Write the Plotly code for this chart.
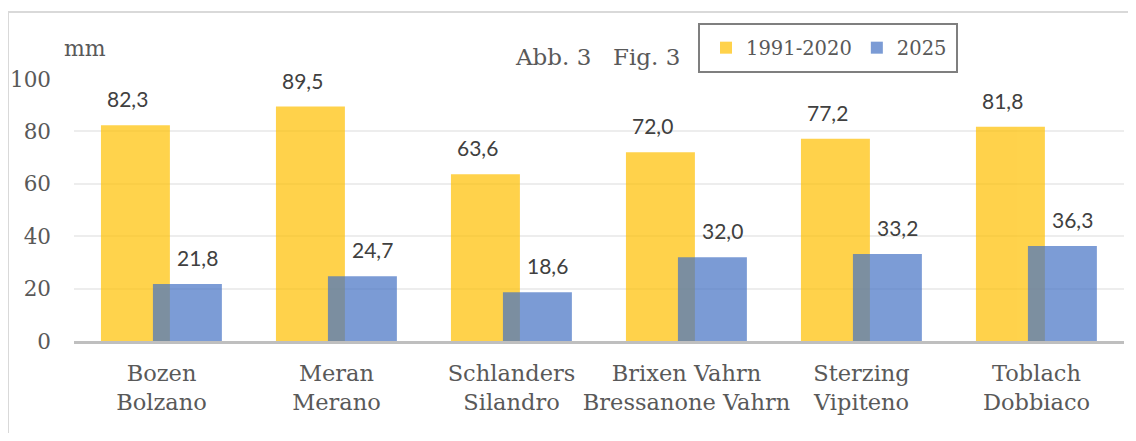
import plotly.graph_objects as go

categories = ["Bozen<br>Bolzano", "Meran<br>Merano", "Schlanders<br>Silandro",
              "Brixen Vahrn<br>Bressanone Vahrn", "Sterzing<br>Vipiteno", "Toblach<br>Dobbiaco"]
series_names = ["1991-2020", "2025"]
normal_vals = [82.3, 89.5, 63.6, 72.0, 77.2, 81.8]
vals_2025 = [21.8, 24.7, 18.6, 32.0, 33.2, 36.3]
y_ticks = [0, 20, 40, 60, 80, 100]

SERIF = "DejaVu Serif"
SANS = "Lato"
idx = list(range(len(categories)))

# page is rendered with an 8px body margin; plot area in page px: x 74..1124, y 79..341
def px(x):
    return (x - 74) / 1050

def py(y):
    return (341 - y) / 262

fig = go.Figure()
fig.add_trace(go.Bar(x=idx, y=normal_vals, name=series_names[0],
                     marker=dict(color="#FFC000", line=dict(width=0)), opacity=0.7,
                     width=0.394, offset=-0.346))
fig.add_trace(go.Bar(x=idx, y=vals_2025, name=series_names[1],
                     marker=dict(color="#4472C4", line=dict(width=0)), opacity=0.7,
                     width=0.394, offset=-0.049))

def fmt(v):
    return f"{v:.1f}".replace(".", ",")

for i, v in enumerate(normal_vals):
    fig.add_annotation(x=i - 0.194, y=v, text=fmt(v), showarrow=False,
                       yanchor="bottom", yshift=12, font=dict(family=SANS, size=21, color="#404040"))
for i, v in enumerate(vals_2025):
    fig.add_annotation(x=i + 0.203, y=v, text=fmt(v), showarrow=False,
                       yanchor="bottom", yshift=12, font=dict(family=SANS, size=21, color="#404040"))

fig.add_annotation(xref="paper", yref="paper", x=px(62), y=py(49),
                   xanchor="left", yanchor="middle", text="mm", showarrow=False,
                   font=dict(family=SERIF, size=22, color="#595959"))
fig.add_annotation(xref="paper", yref="paper", x=px(513), y=py(57),
                   xanchor="left", yanchor="middle", text="Abb. 3", showarrow=False,
                   font=dict(family=SERIF, size=23, color="#595959"))
fig.add_annotation(xref="paper", yref="paper", x=px(611), y=py(57),
                   xanchor="left", yanchor="middle", text="Fig. 3", showarrow=False,
                   font=dict(family=SERIF, size=23, color="#595959"))

# outer frame (left and top edges)
fig.add_shape(type="path", xref="paper", yref="paper",
              path=f"M {px(8)} {py(445)} L {px(8)} {py(12)} L {px(1131)} {py(12)}",
              line=dict(color="#D9D9D9", width=2))
# legend box
fig.add_shape(type="rect", xref="paper", yref="paper",
              x0=px(699), x1=px(957), y0=py(72), y1=py(24),
              line=dict(color="#7F7F7F", width=2), fillcolor="rgba(0,0,0,0)")

fig.update_layout(
    width=1120, height=425,
    margin=dict(l=66, r=4, t=71, b=92, autoexpand=False),
    paper_bgcolor="white", plot_bgcolor="white",
    barmode="overlay",
    showlegend=True,
    legend=dict(orientation="h", x=px(706), y=py(48),
                xanchor="left", yanchor="middle",
                bgcolor="rgba(0,0,0,0)", borderwidth=0,
                font=dict(family=SERIF, size=19.5, color="#595959"),
                itemsizing="constant"),
    xaxis=dict(range=[-0.5, 5.5], tickmode="array", tickvals=idx, ticktext=categories,
               showline=True, linecolor="#BFBFBF", linewidth=3, showgrid=False,
               ticks="", ticklabelstandoff=10,
               tickfont=dict(family=SERIF, size=22.5, color="#595959")),
    yaxis=dict(range=[0, 100], tickvals=y_ticks, showgrid=True, gridcolor="#EDEDED", gridwidth=1.5,
               zeroline=False, showline=False, ticks="", ticklabelstandoff=22,
               tickfont=dict(family=SERIF, size=21.5, color="#595959")),
)

fig.write_html("out.html")
